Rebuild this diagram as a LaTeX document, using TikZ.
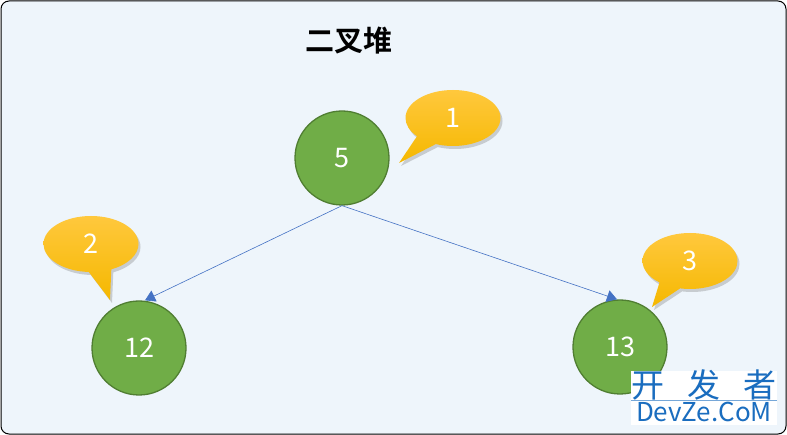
\documentclass[tikz,border=0pt]{standalone}
\usepackage{fontspec}
\newfontfamily\cjk{Noto Sans CJK SC}
\newfontfamily\cjkbold{Noto Sans CJK SC Bold}
\usetikzlibrary{shapes.callouts,shadows,arrows.meta}
\definecolor{bgblue}{HTML}{EEF5FB}
\definecolor{nodegreen}{HTML}{70AD47}
\definecolor{nodeborder}{HTML}{507E32}
\definecolor{edgeblue}{HTML}{4472C4}
\definecolor{calltop}{HTML}{FFC83D}
\definecolor{callbot}{HTML}{F5B800}
\definecolor{wmblue}{HTML}{1A6DBF}
\tikzset{
  heapnode/.style={circle,fill=nodegreen,draw=nodeborder,line width=1.3pt,minimum size=94pt,inner sep=0pt,text=white,font=\cjk\fontsize{27}{27}\selectfont},
  callbox/.style={ellipse callout,minimum width=95pt,minimum height=56pt,inner sep=0pt,top color=calltop,bottom color=callbot,text=white,font=\cjk\fontsize{27}{27}\selectfont,callout pointer arc=28,drop shadow={shadow xshift=2pt,shadow yshift=-3pt,opacity=0.35,fill=gray}},
  edge/.style={draw=edgeblue,line width=0.6pt,-{Triangle[length=10pt,width=12pt]}}
}
\begin{document}
\begin{tikzpicture}[x=1pt,y=-1pt]
\useasboundingbox (0,0) rectangle (787,435);
\draw[fill=bgblue,draw=black,line width=1pt,rounded corners=8pt] (1,1) rectangle (786,434);
\node[font=\cjkbold\fontsize{29}{29}\selectfont] (title) at (349,41) {二叉堆};
\node[heapnode] (n5) at (342,158) {5};
\node[heapnode] (n12) at (139,348) {12};
\node[heapnode] (n13) at (620,347) {13};
\draw[edge] (n5.south) -- ([xshift=6pt]n12.north);
\draw[edge] (n5.south) -- ([xshift=-3pt]n13.north);
\coordinate (p1) at (399,163);
\coordinate (p2) at (110,300);
\coordinate (p3) at (652,307);
\node[callbox,callout absolute pointer={(p1)}] (c1) at (453,118) {1};
\node[callbox,callout absolute pointer={(p2)}] (c2) at (91,244) {2};
\node[callbox,callout absolute pointer={(p3)}] (c3) at (690,261) {3};
\fill[white] (631,371) rectangle (777,425);
\draw[wmblue!60,line width=0.8pt] (631,400) -- (777,400);
\node[text=wmblue,font=\cjk\fontsize{33}{33}\selectfont,inner sep=0pt] (wm1) at (704,385) {开\hspace{23pt}发\hspace{23pt}者};
\node[text=wmblue,font=\cjk\fontsize{26}{26}\selectfont,inner sep=0pt] (wm2) at (704,412) {DevZe.CoM};
\end{tikzpicture}
\end{document}
